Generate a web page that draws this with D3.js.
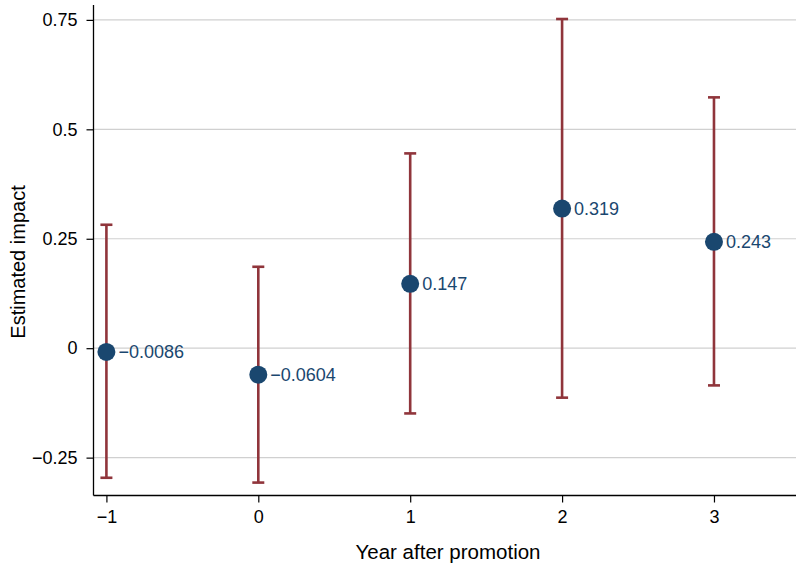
<!DOCTYPE html>
<html>
<head>
<meta charset="utf-8">
<script src="https://cdn.jsdelivr.net/npm/d3@7"></script>
<style>
  body { margin: 0; background: #fff; }
  svg { display: block; font-family: "Liberation Sans", Arial, sans-serif; }
</style>
</head>
<body>
<div id="container"></div>
<script>
let years = [-1, 0, 1, 2, 3];
let estimates = [-0.0086, -0.0604, 0.147, 0.319, 0.243];
let ciLow = [-0.296, -0.307, -0.149, -0.113, -0.085];
let ciHigh = [0.282, 0.186, 0.445, 0.752, 0.573];
let yTicks = [-0.25, 0, 0.25, 0.5, 0.75];
let yTickLabels = ['\u22120.25', '0', '0.25', '0.5', '0.75'];
let pointLabels = ['\u22120.0086', '\u22120.0604', '0.147', '0.319', '0.243'];

let w = 796,
    h = 567;

let mLeft = 93.5, mRight = 796, mTop = 5, mBottom = 495.5;

let navy = '#1a476f',
    maroon = '#90353b';

let viz = d3.select('#container')
    .append('svg')
      .attr('width', w)
      .attr('height', h);

let x = d3.scaleLinear().domain([-1.085, 3.54]).range([mLeft, mRight]);
let y = d3.scaleLinear().domain([-0.3365, 0.784]).range([mBottom, mTop]);

// grid lines
viz.append('g')
    .selectAll('line')
    .data(yTicks)
    .join('line')
      .attr('x1', mLeft)
      .attr('x2', mRight)
      .attr('y1', d => y(d))
      .attr('y2', d => y(d))
      .attr('stroke', '#d0d0d0')
      .attr('stroke-width', 1.2);

// y axis
let yAxis = viz.append('g')
    .attr('transform', 'translate(' + mLeft + ',0)')
    .call(d3.axisLeft(y).tickValues(yTicks).tickSize(7).tickPadding(9)
        .tickFormat((d, i) => yTickLabels[i]));
yAxis.select('.domain').attr('d', 'M0,' + mTop + 'V' + mBottom).attr('stroke', '#000').attr('stroke-width', 1.3);
yAxis.selectAll('.tick line').attr('stroke', '#000').attr('stroke-width', 1.2);
yAxis.selectAll('.tick text').attr('font-size', 18).attr('fill', '#000')
    .attr('font-family', '"Liberation Sans", Arial, sans-serif');

// x axis
let xAxis = viz.append('g')
    .attr('transform', 'translate(0,' + mBottom + ')')
    .call(d3.axisBottom(x).tickValues(years).tickSize(7).tickPadding(8)
        .tickFormat(d => d < 0 ? '\u2212' + Math.abs(d) : d));
xAxis.select('.domain').attr('d', 'M' + mLeft + ',0H' + mRight).attr('stroke', '#000').attr('stroke-width', 1.3);
xAxis.selectAll('.tick line').attr('stroke', '#000').attr('stroke-width', 1.2);
xAxis.selectAll('.tick text').attr('font-size', 18).attr('fill', '#000')
    .attr('font-family', '"Liberation Sans", Arial, sans-serif');

// error bars
let bars = viz.append('g')
    .attr('stroke', maroon)
    .attr('stroke-width', 2.6);

bars.selectAll('line.stem')
    .data(years)
    .join('line')
      .attr('class', 'stem')
      .attr('x1', d => x(d))
      .attr('x2', d => x(d))
      .attr('y1', (d, i) => y(ciLow[i]))
      .attr('y2', (d, i) => y(ciHigh[i]));

bars.selectAll('line.caplo')
    .data(years)
    .join('line')
      .attr('class', 'caplo')
      .attr('x1', d => x(d) - 6)
      .attr('x2', d => x(d) + 6)
      .attr('y1', (d, i) => y(ciLow[i]))
      .attr('y2', (d, i) => y(ciLow[i]));

bars.selectAll('line.caphi')
    .data(years)
    .join('line')
      .attr('class', 'caphi')
      .attr('x1', d => x(d) - 6)
      .attr('x2', d => x(d) + 6)
      .attr('y1', (d, i) => y(ciHigh[i]))
      .attr('y2', (d, i) => y(ciHigh[i]));

// points
viz.append('g')
    .selectAll('circle')
    .data(years)
    .join('circle')
      .attr('cx', d => x(d))
      .attr('cy', (d, i) => y(estimates[i]))
      .attr('r', 9)
      .attr('fill', navy);

// point labels
viz.append('g')
    .selectAll('text')
    .data(years)
    .join('text')
      .attr('x', d => x(d) + 12)
      .attr('y', (d, i) => y(estimates[i]) + 6.5)
      .attr('font-size', 18)
      .attr('fill', navy)
      .text((d, i) => pointLabels[i]);

// axis titles
viz.append('text')
    .attr('x', 448)
    .attr('y', 559)
    .attr('text-anchor', 'middle')
    .attr('font-size', 20.5)
    .text('Year after promotion');

viz.append('text')
    .attr('transform', 'translate(25,262) rotate(-90)')
    .attr('text-anchor', 'middle')
    .attr('font-size', 20)
    .text('Estimated impact');
</script>
</body>
</html>
